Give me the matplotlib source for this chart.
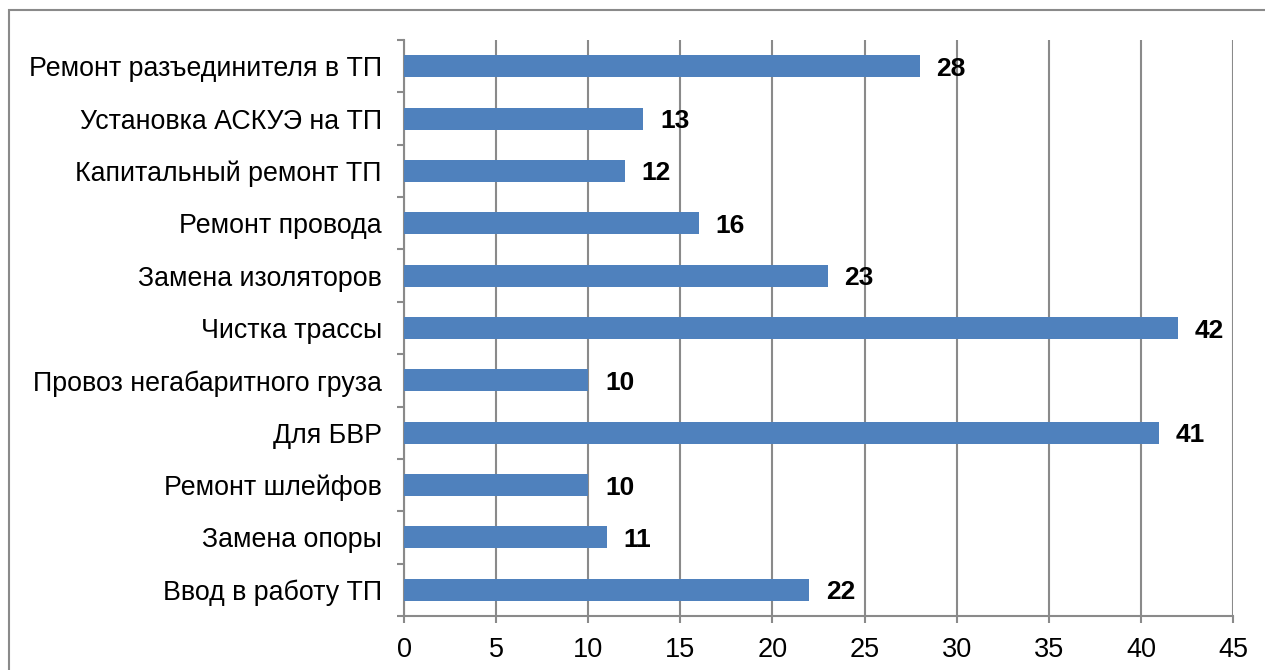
import matplotlib.pyplot as plt
from matplotlib.patches import Rectangle
from matplotlib.ticker import FixedLocator

plt.rcParams['font.family'] = ['Liberation Sans', 'DejaVu Sans']

# work types, listed bottom to top
categories = [
    'Ввод в работу ТП',
    'Замена опоры',
    'Ремонт шлейфов',
    'Для БВР',
    'Провоз негабаритного груза',
    'Чистка трассы',
    'Замена изоляторов',
    'Ремонт провода',
    'Капитальный ремонт ТП',
    'Установка АСКУЭ на ТП',
    'Ремонт разъединителя в ТП',
]
counts = [22, 11, 10, 41, 10, 42, 23, 16, 12, 13, 28]
x_ticks = [0, 5, 10, 15, 20, 25, 30, 35, 40, 45]

bar_color = '#4F81BD'
grid_color = '#8a8a8a'

fig = plt.figure(figsize=(12.65, 6.7), dpi=100)
ax = fig.add_axes([404 / 1265, 1 - 616 / 670, (1233 - 404) / 1265, (616 - 40) / 670])

# outer chart frame (runs off the right and bottom edges)
fig.patches.append(Rectangle((9 / 1265, -0.1), 1.2, 1 - 10 / 670 + 0.1,
                             transform=fig.transFigure, fill=False,
                             edgecolor=grid_color, linewidth=1.5))

ypos = range(len(categories))
bars = ax.barh(ypos, counts, height=0.42, color=bar_color, zorder=3)

for y, v in zip(ypos, counts):
    ax.annotate(str(v), xy=(v, y), xytext=(12, 0), textcoords='offset points',
                ha='left', va='center_baseline', fontsize=19, fontweight='bold',
                color='black', zorder=4)

ax.set_xlim(0, 45)
ax.set_ylim(-0.5, len(categories) - 0.5)
ax.set_xticks(x_ticks)
ax.set_yticks(list(ypos))
ax.set_yticklabels(categories)
ax.yaxis.set_minor_locator(FixedLocator([i - 0.5 for i in range(len(categories) + 1)]))

ax.grid(axis='x', color=grid_color, linewidth=1.5, zorder=0)
for side in ['top', 'right']:
    ax.spines[side].set_visible(False)
for side in ['left', 'bottom']:
    ax.spines[side].set_color(grid_color)
    ax.spines[side].set_linewidth(1.5)

ax.tick_params(axis='y', which='major', length=0, pad=16, labelsize=19.3)
ax.tick_params(axis='y', which='minor', length=5, width=1.5, color=grid_color)
ax.tick_params(axis='x', which='major', length=5, width=1.5, color=grid_color,
               pad=10, labelsize=19.5)

fig.savefig('out.png', dpi=100)
